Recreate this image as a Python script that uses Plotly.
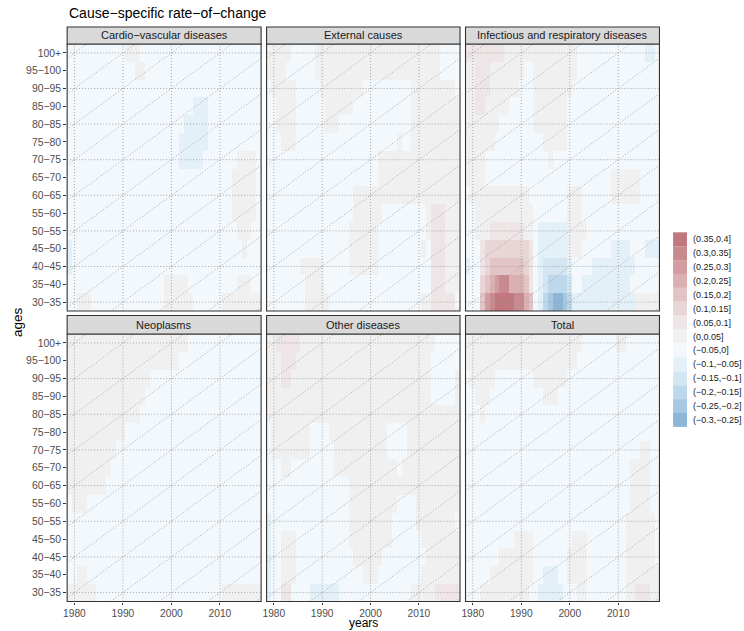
import plotly.graph_objects as go

W, H = 744, 631

# ---------------- data ----------------
years = list(range(1979, 2019))
age_starts = list(range(30, 105, 5))
age_labels = ["30−35", "35−40", "40−45", "45−50", "50−55", "55−60", "60−65",
              "65−70", "70−75", "75−80", "80−85", "85−90", "90−95", "95−100", "100+"]
level_labels = ["(−0.3,−0.25]", "(−0.25,−0.2]", "(−0.2,−0.15]", "(−0.15,−0.1]",
                "(−0.1,−0.05]", "(−0.05,0]", "(0,0.05]", "(0.05,0.1]", "(0.1,0.15]",
                "(0.15,0.2]", "(0.2,0.25]", "(0.25,0.3]", "(0.3,0.35]", "(0.35,0.4]"]
level_codes = "edcba.o1234567"
level_colors = ["#8DB5D8", "#A7C8E2", "#BED8EB", "#D3E6F1", "#E4F0F8", "#F3F8FC",
                "#F0F0F0", "#EDE5E6", "#E8D6D7", "#E2C4C6", "#DBB0B3", "#D29CA0",
                "#C98A8F", "#C0787E"]
panel_titles = ["Cardio−vascular diseases", "External causes",
                "Infectious and respiratory diseases", "Neoplasms",
                "Other diseases", "Total"]
year_ticks = [1980, 1990, 2000, 2010]
grid_ages = [30, 40, 50, 60, 70, 80, 90, 100]
cohorts = list(range(1870, 2000, 10))

# rows listed from 100+ (top) down to 30-35 (bottom); years 1979..2018 in blocks of 10
cardio = [
    ".......... ..ooo..... .......... ..........",
    ".......... ....oo.... .......... ..........",
    ".......... .......... .......... ..........",
    ".......... .......... ......aaa. ..........",
    ".......... .......... ....aaaaa. ..........",
    ".......... .......... ...aaaaaa. ..........",
    ".......... .......... ...aaaaa.. .....oooo.",
    ".......... .......... .......... ....ooooo.",
    ".......... .......... .......... ....ooooo.",
    ".......... .......... .......... ....ooooo.",
    ".......... .......... .......... .....ooo..",
    "a......... .......... .......... ......o...",
    "a......... .......... .......... ..........",
    ".......... .......... ooooo..... .....ooo..",
    "..ooo..... .......... oooooo.... ..oooooooo",
]
external = [
    "ooooo..... oooooooooo oooooooooo oooooo....",
    "oooo...... oooooooooo oooooooooo oooooo....",
    ".ooooo.... .ooooooooo .......... ooooooooo.",
    "..oooo.... ..oooooo.. .......... oooooooooo",
    "..oooo.... ..ooo..... .......... oooooooooo",
    "...ooo.... .......... .......o.. oooooooooo",
    ".......... .......... ...ooooooo oooooooooo",
    ".......... .......... ...ooooooo oooooooooo",
    ".......... ........oo oooooooooo oooooooooo",
    ".......... ........oo oooo...... ...o111ooo",
    ".......... .......ooo ooo....... ...o111ooo",
    ".......... .......ooo ooo....... ..o.111ooo",
    ".......ooo oo.....ooo ooo....... ....111ooo",
    "........oo oo........ .......... ....111ooo",
    "........oo ooo....... .......... ..oo11111.",
]
infectious = [
    "11111111oo oooooooooo ooo....... .......aa.",
    "oo111ooooo oo..oooooo ooo....... ..........",
    "oo111ooooo o...oooooo oo........ ..........",
    "oo11ooooo. ....oooooo o......... ..........",
    "ooooooo... ....oooooo o......... ..........",
    "oooooo.... ......oooo o......... ..........",
    "oooo...... .......o.. .......... ..........",
    "oooo...... .......... .......... oooooo....",
    ".ooooooooo ooo....... .ooo...... oooooo....",
    "..oooooooo oooo...... .ooo...... ..........",
    "..ooo11111 11oo.aaaaa aoooo..... ..........",
    "...1222222 2221.aaaaa aooo...... aaaa...aaa",
    "a..1233333 3321.abbbb ba....aaaa aaaaa.....",
    "...2345664 4431.abccc cb..aaaaaa aaaa......",
    "...3567777 6643.acdee dcaaaaaaaa aaaaaooooo",
]
neoplasms = [
    "oooooooooo oooooooooo ooooo..... ..........",
    "oooooooooo oooooooooo ooo....... ..........",
    "oooooooooo ooooooo... .......... ..........",
    "oooooooooo oooooo.... .......... ..........",
    "oooooooooo ooooo..... .......... ..........",
    "oooooooooo oo........ .......... ..........",
    "oooooooooo .......... .......... ..........",
    "ooooooooo. .......... .......... ..........",
    "oooooooo.. .......... .......... ..........",
    ".ooo...... .......... .......... ..........",
    ".......... .......... .......... ..........",
    ".......... .......... .......... ..........",
    ".......... .......... .......... ..........",
    "..oo...... .......... .......... ..........",
    "oooooo.... .......... .......... ..oooooooo",
]
other = [
    "oo11111ooo oooooooooo oooooooooo ooooo.....",
    "ooo111oooo oooooooooo oooooooooo oooo......",
    "ooo11ooooo oooooooooo oooooooooo oooo.....o",
    "oooooooooo oooooooooo oooooooooo oooo.....o",
    "oooooooooo oooooooooo oooooooooo oooooooooo",
    ".oooooooo. ...ooooooo ooooo....o oooooooooo",
    ".oooooooo. ....oooooo ooooo....o oooooooooo",
    "...oo..... ....oooooo ooooooo.oo oooooooooo",
    ".......... .......ooo oooooooooo oooooooooo",
    ".......... .......ooo ooooooo... .ooooooooo",
    "a......... .......ooo oooooo.... .oooooooo.",
    "a..ooo.... .......ooo oooooo.... ..oooooooo",
    "a..ooo.... ........oo oooo...... ...ooooooo",
    "a..ooo.... .......... ooo....... ..oooooooo",
    "a..11....a aaaaa..... .......... ooooo11111",
]
total = [
    "oooooooooo oooooooooo oooo...... .oo.......",
    "oooooooooo oooooooooo ooo....... ..........",
    ".ooooo.... ....oooooo o......... ..........",
    "..ooo..... ......ooo. .......... ..........",
    "...o...... .......... .......... ..........",
    ".......... .......... .......... ..........",
    ".......... .......... .......... ......oo..",
    ".......... .......... .......... ....oooo..",
    ".......... .......... .......... ....oooo..",
    ".......... .......... .......... ....oooo..",
    ".......... .......... .......... ...oooooo.",
    ".......... oooo...... ..ooo..... ...oooooo.",
    ".......ooo oooo...... .oooo..... ...oooooo.",
    ".....ooooo oooo..aaa. .oooo..... ...ooooooo",
    "...ooooooo ooo..aaaaa ...oo..... ...oo111oo",
]
panels = [cardio, external, infectious, neoplasms, other, total]

# ---------------- layout geometry (pixels) ----------------
col_px = [(63.5, 258.5), (264.0, 458.5), (464.0, 659.0)]
row_px = [(44.0, 311.0), (334.0, 601.5)]
strip_px = [(27.0, 44.0), (315.5, 334.0)]
FONT = "Liberation Sans, Arial, sans-serif"
GRID_COLOR = "#9E9E9E"
BORDER = "#333333"


def px_x(v):
    return v / W


def px_y(v):
    return 1 - v / H


def decode(rows):
    z = []
    for row in reversed(rows):
        s = (row.replace(" ", "") + "." * 40)[:40]
        z.append([level_codes.index(ch) for ch in s])
    return z


colorscale = []
n = len(level_colors)
for k, c in enumerate(level_colors):
    colorscale.append([k / n, c])
    colorscale.append([(k + 1) / n, c])

fig = go.Figure()
shapes = []
annotations = []

for k, rows in enumerate(panels):
    r, c = divmod(k, 3)
    ax = "" if k == 0 else str(k + 1)
    xa, ya = "x" + ax, "y" + ax
    fig.add_trace(go.Heatmap(
        x=years, y=age_starts, z=decode(rows), xaxis=xa, yaxis=ya,
        colorscale=colorscale, zmin=-0.5, zmax=n - 0.5, showscale=False,
        hoverinfo="skip"))
    vx, vy = [], []
    for yr in year_ticks:
        vx += [yr, yr, None]
        vy += [27.5, 102.5, None]
    hx, hy = [], []
    for a in grid_ages:
        hx += [1978.5, 2018.5, None]
        hy += [a, a, None]
    dx, dy = [], []
    for ch in cohorts:
        dx += [1978.5, 2018.5, None]
        dy += [1978.5 - ch, 2018.5 - ch, None]
    for gx, gy in ((vx, vy), (hx, hy), (dx, dy)):
        fig.add_trace(go.Scatter(
            x=gx, y=gy, xaxis=xa, yaxis=ya, mode="lines", hoverinfo="skip",
            line=dict(color=GRID_COLOR, width=0.9, dash="1px,2px"),
            showlegend=False))

    x0, x1 = col_px[c]
    y0, y1 = row_px[r]
    fig.layout["xaxis" + ax] = dict(
        domain=[px_x(x0), px_x(x1)], range=[1978.5, 2018.5], anchor=ya,
        showgrid=False, zeroline=False, showline=False,
        tickmode="array", tickvals=year_ticks,
        ticks="outside" if r == 1 else "", ticklen=2.5, tickwidth=1,
        tickcolor=BORDER, showticklabels=(r == 1),
        tickfont=dict(family=FONT, size=10.2, color="#4D4D4D"))
    fig.layout["yaxis" + ax] = dict(
        domain=[px_y(y1), px_y(y0)], range=[27.5, 102.5], anchor=xa,
        showgrid=False, zeroline=False, showline=False,
        tickmode="array", tickvals=age_starts, ticktext=age_labels,
        ticks="outside" if c == 0 else "", ticklen=3, tickwidth=1,
        tickcolor=BORDER, showticklabels=(c == 0),
        tickfont=dict(family=FONT, size=10.4, color="#4D4D4D"))
    shapes.append(dict(type="rect", xref="paper", yref="paper",
                       x0=px_x(x0), x1=px_x(x1), y0=px_y(y1), y1=px_y(y0),
                       line=dict(color=BORDER, width=1.1), layer="above"))
    s0, s1 = strip_px[r]
    shapes.append(dict(type="rect", xref="paper", yref="paper",
                       x0=px_x(x0), x1=px_x(x1), y0=px_y(s1), y1=px_y(s0),
                       fillcolor="#D9D9D9", line=dict(color=BORDER, width=1.1),
                       layer="above"))
    annotations.append(dict(text=panel_titles[k], xref="paper", yref="paper",
                            x=px_x((x0 + x1) / 2), y=px_y((s0 + s1) / 2),
                            xanchor="center", yanchor="middle", showarrow=False,
                            font=dict(family=FONT, size=11, color="#1A1A1A")))

key_x0, key_x1 = 672.7, 686.7
key_top, key_h = 232.3, 13.9
for i, (lab, colr) in enumerate(zip(reversed(level_labels), reversed(level_colors))):
    ty = key_top + i * key_h
    shapes.append(dict(type="rect", xref="paper", yref="paper",
                       x0=px_x(key_x0), x1=px_x(key_x1),
                       y0=px_y(ty + key_h), y1=px_y(ty),
                       fillcolor=colr, line=dict(width=0), layer="above"))
    annotations.append(dict(text=lab, xref="paper", yref="paper",
                            x=px_x(690.5), y=px_y(ty + key_h / 2),
                            xanchor="left", yanchor="middle", showarrow=False,
                            font=dict(family=FONT, size=9, color="#1A1A1A")))

annotations.append(dict(text="Cause−specific rate−of−change", xref="paper", yref="paper",
                        x=px_x(63.5), y=px_y(13.5), xanchor="left", yanchor="middle",
                        showarrow=False, font=dict(family=FONT, size=14, color="#000000")))
annotations.append(dict(text="years", xref="paper", yref="paper",
                        x=px_x(361), y=0, xanchor="center", yanchor="bottom",
                        showarrow=False, borderpad=0,
                        font=dict(family=FONT, size=12, color="#000000")))
annotations.append(dict(text="ages", xref="paper", yref="paper",
                        x=px_x(13), y=px_y(322), xanchor="center", yanchor="middle",
                        textangle=-90, showarrow=False,
                        font=dict(family=FONT, size=13.5, color="#000000")))

fig.update_layout(width=W, height=H, margin=dict(l=0, r=0, t=0, b=0),
                  paper_bgcolor="white", plot_bgcolor="white", showlegend=False,
                  shapes=shapes, annotations=annotations,
                  font=dict(family=FONT))
fig.write_html("out.html")
